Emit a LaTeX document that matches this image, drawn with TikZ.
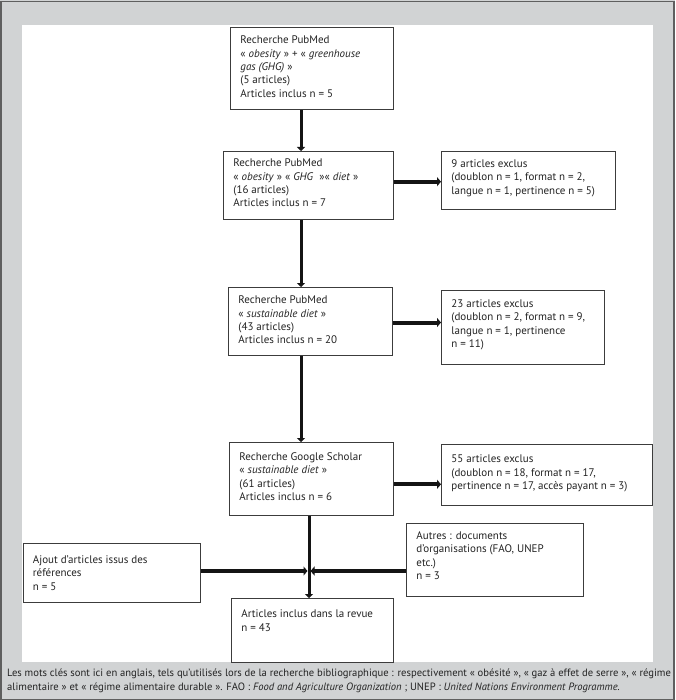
\documentclass[tikz,border=0pt]{standalone}
\usepackage{fontspec}
\setmainfont{PT Sans}
\usetikzlibrary{arrows.meta}
\definecolor{panelgray}{RGB}{209,211,212}
\definecolor{framegray}{RGB}{95,95,95}
\definecolor{boxline}{RGB}{60,60,60}
\definecolor{inkc}{RGB}{35,35,35}
\definecolor{arrowc}{RGB}{20,20,20}
\newcommand\flowbox[7][16.5]{%
  \node[flow, minimum width=#5pt, minimum height=#6pt, anchor=north west] (#2) at (#3,#4)
  {\parbox[c][#6pt][t]{\dimexpr#5pt-20pt\relax}{\rule{0pt}{#1pt}\begin{tabular}[t]{@{}l@{}}#7\end{tabular}}};}
\tikzset{
  flow/.style={draw=boxline, line width=0.9pt, fill=white, inner sep=0pt, text=inkc,
    font=\fontsize{11}{13.3}\selectfont},
  varrow/.style={draw=arrowc, line width=3pt, -{Triangle[length=4pt,width=8pt]}},
  harrow/.style={draw=arrowc, line width=4pt, -{Triangle[length=4pt,width=9pt]}},
  caption/.style={text=inkc, align=left, inner sep=0pt, font=\fontsize{10.6}{14}\selectfont}
}
\begin{document}
\begin{tikzpicture}[x=1pt,y=-1pt]
\useasboundingbox (0,0) rectangle (675,700);
\fill[panelgray] (0,0) rectangle (675,700);
\fill[white] (22,25) rectangle (653,662);
\draw[framegray, line width=1.5pt] (0.75,1.5) rectangle (674,699.25);

\flowbox{b1}{230}{27}{163}{82}{Recherche PubMed\\ « \textit{obesity} » + « \textit{greenhouse}\\ \textit{gas (GHG)} »\\ (5 articles)\\ Articles inclus n = 5}
\flowbox[15.5]{b2}{223}{151}{170}{68}{Recherche PubMed\\ « \textit{obesity} » « \textit{GHG}~~»« \textit{diet} »\\ (16 articles)\\ Articles inclus n = 7}
\flowbox{b3}{228}{287}{164}{68}{Recherche PubMed\\ « \textit{sustainable diet} »\\ (43 articles)\\ Articles inclus n = 20}
\flowbox[18]{b4}{229}{442}{164}{73}{Recherche Google Scholar\\ « \textit{sustainable diet} »\\ (61 articles)\\ Articles inclus n = 6}
\flowbox[16]{e1}{441}{151}{174}{58}{9 articles exclus\\ (doublon n = 1, format n = 2,\\ langue n = 1, pertinence n = 5)}
\flowbox[17]{e2}{441}{290}{163}{74}{23 articles exclus\\ (doublon n = 2, format n = 9,\\ langue n = 1, pertinence\\ n = 11)}
\flowbox[18.5]{e3}{441}{444}{211}{61}{55 articles exclus\\ (doublon n = 18, format n = 17,\\ pertinence n = 17, accès payant n = 3)}
\flowbox[20]{aj}{22.5}{543}{177.5}{59}{Ajout d’articles issus des\\ références\\ n = 5}
\flowbox[16]{au}{406}{523}{177}{73}{Autres : documents\\ d’organisations (FAO, UNEP\\ etc.)\\ n = 3}
\flowbox[19.5]{fin}{231}{598}{162}{64}{Articles inclus dans la revue\\ n = 43}

\coordinate (cx) at (301,0);
\coordinate (cx2) at (309,0);
\coordinate (ya) at (0,181.7);
\coordinate (yb) at (0,322.5);
\coordinate (yc) at (0,484.3);
\coordinate (j) at (309,571);

\draw[varrow] (b1.south -| cx) -- (b2.north -| cx);
\draw[varrow] (b2.south -| cx) -- (b3.north -| cx);
\draw[varrow] (b3.south -| cx) -- (b4.north -| cx);
\draw[varrow] (b4.south -| cx2) -- (fin.north -| cx2);

\draw[harrow] (b2.east |- ya) -- (e1.west |- ya);
\draw[harrow] (b3.east |- yb) -- (e2.west |- yb);
\draw[harrow] (b4.east |- yc) -- (e3.west |- yc);
\draw[harrow, shorten >=1.5pt] (aj.east |- j) -- (j);
\draw[harrow, shorten >=1.5pt] (au.west |- j) -- (j);

\node[caption, anchor=base west] (cap) at (7,690) {Les mots clés sont ici en anglais, tels qu'utilisés lors de la recherche bibliographique : respectivement « obésité », « gaz à effet de serre », « régime\\ alimentaire » et « régime alimentaire durable ». FAO : \textit{Food and Agriculture Organization} ; UNEP : \textit{United Nations Environment Programme.}};
\end{tikzpicture}
\end{document}
